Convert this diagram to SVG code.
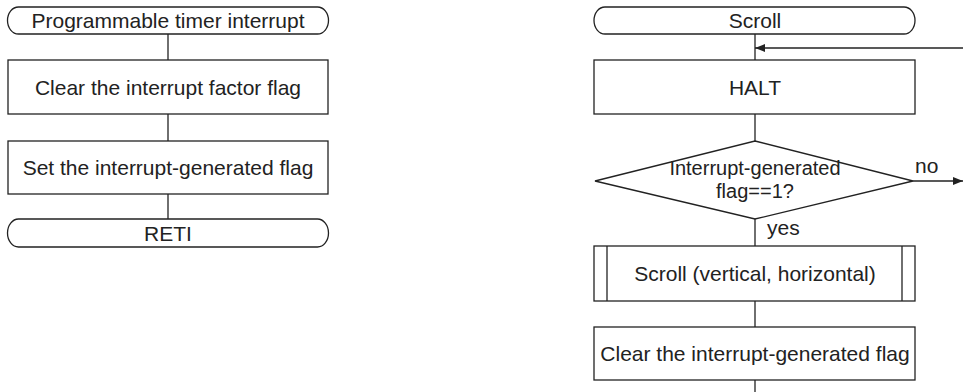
<svg xmlns="http://www.w3.org/2000/svg" width="963" height="392" viewBox="0 0 963 392">
  <style>
    .shape { fill: #ffffff; stroke: #222222; stroke-width: 1.3; }
    .line { fill: none; stroke: #222222; stroke-width: 1.3; }
    .label { font-family: "Liberation Sans", Arial, sans-serif; font-size: 21px; fill: #222222; text-anchor: middle; }
    .cond { font-family: "Liberation Sans", Arial, sans-serif; font-size: 20px; fill: #222222; text-anchor: middle; }
    .side { font-family: "Liberation Sans", Arial, sans-serif; font-size: 21px; fill: #222222; }
  </style>
  <defs>
    <marker id="arrow" viewBox="0 0 10 8" refX="10" refY="4" markerWidth="10" markerHeight="8" markerUnits="userSpaceOnUse" orient="auto">
      <path d="M0,0 L10,4 L0,8 Z" fill="#222222"/>
    </marker>
  </defs>

  <rect width="963" height="392" fill="#ffffff"/>

  <!-- connectors -->
  <g id="connectors">
    <!-- left flow -->
    <line class="line" x1="168" y1="34" x2="168" y2="60"/>
    <line class="line" x1="168" y1="114" x2="168" y2="141"/>
    <line class="line" x1="168" y1="194" x2="168" y2="219"/>
    <!-- right flow -->
    <line class="line" x1="755" y1="34" x2="755" y2="60"/>
    <line class="line" x1="963" y1="48" x2="755" y2="48" marker-end="url(#arrow)"/>
    <line class="line" x1="755" y1="114" x2="755" y2="143"/>
    <line class="line" x1="913" y1="181" x2="963" y2="181" marker-end="url(#arrow)"/>
    <line class="line" x1="755" y1="219" x2="755" y2="246"/>
    <line class="line" x1="755" y1="301" x2="755" y2="327"/>
    <line class="line" x1="755" y1="380" x2="755" y2="392"/>
    <text class="side" x="915" y="173">no</text>
    <text class="side" x="767" y="235">yes</text>
  </g>

  <!-- left flowchart -->
  <g id="timer-start">
    <rect class="shape" x="7.5" y="7" width="321" height="27" rx="11" ry="13.5"/>
    <text class="label" x="168" y="28">Programmable timer interrupt</text>
  </g>
  <g id="clear-factor">
    <rect class="shape" x="8" y="60" width="320" height="54"/>
    <text class="label" x="168" y="94.5">Clear the interrupt factor flag</text>
  </g>
  <g id="set-flag">
    <rect class="shape" x="8" y="141" width="320" height="53"/>
    <text class="label" x="168" y="175">Set the interrupt-generated flag</text>
  </g>
  <g id="reti">
    <rect class="shape" x="7.5" y="219" width="321" height="28" rx="11" ry="14"/>
    <text class="label" x="168" y="241">RETI</text>
  </g>

  <!-- right flowchart -->
  <g id="scroll-start">
    <rect class="shape" x="594" y="7" width="321" height="27" rx="11" ry="13.5"/>
    <text class="label" x="755" y="28">Scroll</text>
  </g>
  <g id="halt">
    <rect class="shape" x="594" y="60" width="321" height="54"/>
    <text class="label" x="755" y="94.5">HALT</text>
  </g>
  <g id="flag-check">
    <polygon class="shape" points="755,141 913,181 755,219 595,181"/>
    <text class="cond" x="755" y="175">Interrupt-generated</text>
    <text class="cond" x="755" y="197.5">flag==1?</text>
  </g>
  <g id="scroll-sub">
    <rect class="shape" x="594" y="246" width="321" height="55"/>
    <line class="line" x1="607" y1="246" x2="607" y2="301"/>
    <line class="line" x1="902" y1="246" x2="902" y2="301"/>
    <text class="label" x="755" y="281">Scroll (vertical, horizontal)</text>
  </g>
  <g id="clear-flag">
    <rect class="shape" x="594" y="327" width="321" height="53"/>
    <text class="label" x="755" y="361">Clear the interrupt-generated flag</text>
  </g>
</svg>
